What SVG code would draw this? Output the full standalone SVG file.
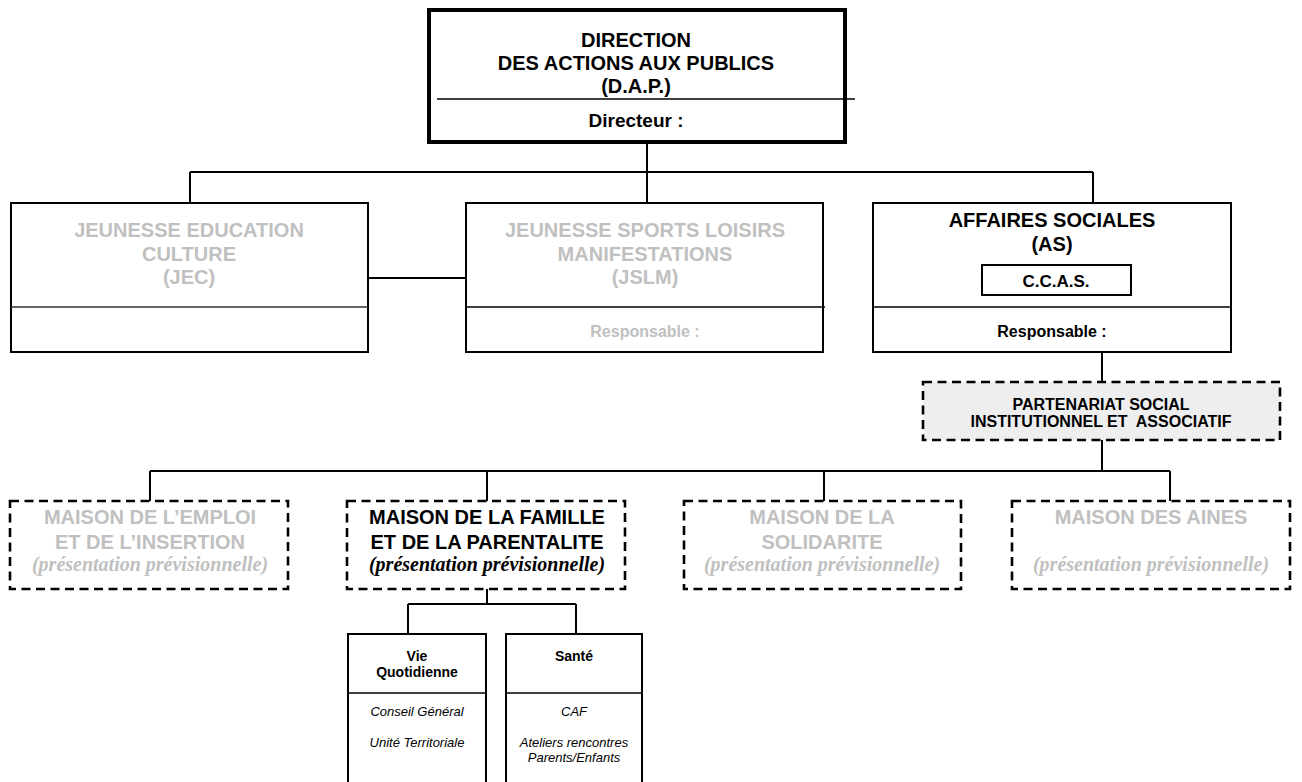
<svg xmlns="http://www.w3.org/2000/svg" width="1302" height="782" viewBox="0 0 1302 782">
<style>
.t{font-family:"Liberation Sans",Arial,sans-serif;font-weight:bold;text-anchor:middle;fill:#000}
.i{font-family:"Liberation Sans",Arial,sans-serif;font-style:italic;text-anchor:middle;fill:#000;font-size:13px}
.g{fill:#c0c0c0}
.s{font-family:"Liberation Serif","Times New Roman",serif;font-style:italic;font-weight:bold;text-anchor:middle;font-size:20px}
.box{fill:#fff;stroke:#000;stroke-width:2}
.dash{fill:#fff;stroke:#000;stroke-width:2.6;stroke-dasharray:9 5.5}
.ln{stroke:#000;stroke-width:2;fill:none}
.t20{font-size:20px}
.t16{font-size:16px}
.t14{font-size:14px}
</style>
<rect width="1302" height="782" fill="#fff"/>
<g id="connectors">
<path class="ln" d="M647 143V172M190 172H1093M190 172V203M647 172V203M1093 172V203"/>
<path class="ln" d="M368 278H466"/>
<path class="ln" d="M1102 352V382M1102 440V471M150 471H1170M150 471V501M487 471V501M824 471V501M1170 471V501"/>
<path class="ln" d="M487 589V604M408 604H576M408 604V634M576 604V634"/>
</g>
<g id="dap">
<rect x="429" y="10" width="416" height="132" fill="#fff" stroke="#000" stroke-width="4"/>
<line x1="437" y1="99" x2="855" y2="99" stroke="#000" stroke-width="1.5"/>
<text class="t t20" x="636" y="47">DIRECTION</text>
<text class="t t20" x="636" y="70">DES ACTIONS AUX PUBLICS</text>
<text class="t t20" x="636" y="93">(D.A.P.)</text>
<text class="t" font-size="19" x="636" y="127">Directeur :</text>
</g>
<g id="jec">
<rect class="box" x="11" y="203" width="357" height="149"/>
<line x1="11" y1="307" x2="368" y2="307" stroke="#333" stroke-width="1.5"/>
<text class="t t20 g" x="189" y="237">JEUNESSE EDUCATION</text>
<text class="t t20 g" x="189" y="261">CULTURE</text>
<text class="t t20 g" x="189" y="284">(JEC)</text>
</g>
<g id="jslm">
<rect class="box" x="466" y="203" width="357" height="149"/>
<line x1="466" y1="307" x2="825" y2="307" stroke="#000" stroke-width="1.5"/>
<text class="t t20 g" x="645" y="237">JEUNESSE SPORTS LOISIRS</text>
<text class="t t20 g" x="645" y="261">MANIFESTATIONS</text>
<text class="t t20 g" x="645" y="284">(JSLM)</text>
<text class="t t16 g" x="645" y="337">Responsable :</text>
</g>
<g id="as">
<rect class="box" x="873" y="203" width="358" height="149"/>
<line x1="872" y1="307" x2="1231" y2="307" stroke="#000" stroke-width="1.5"/>
<text class="t t20" x="1052" y="227">AFFAIRES SOCIALES</text>
<text class="t t20" x="1052" y="251">(AS)</text>
<rect class="box" x="982" y="265" width="149" height="30"/>
<text class="t" font-size="17" x="1056" y="287">C.C.A.S.</text>
<text class="t t16" x="1052" y="337">Responsable :</text>
</g>
<g id="partenariat">
<rect class="dash" x="923" y="382" width="357" height="58" fill="#eeeeee" style="fill:#eeeeee"/>
<text class="t t16" x="1101" y="410">PARTENARIAT SOCIAL</text>
<text class="t t16" x="1101" y="427" style="white-space:pre">INSTITUTIONNEL ET  ASSOCIATIF</text>
</g>
<g id="emploi">
<rect class="dash" x="10" y="501" width="278" height="88"/>
<text class="t t20 g" x="150" y="524">MAISON DE L’EMPLOI</text>
<text class="t t20 g" x="150" y="549">ET DE L’INSERTION</text>
<text class="s g" x="150" y="571">(présentation prévisionnelle)</text>
</g>
<g id="famille">
<rect class="dash" x="347" y="501" width="278" height="88"/>
<text class="t t20" x="487" y="524">MAISON DE LA FAMILLE</text>
<text class="t t20" x="487" y="549">ET DE LA PARENTALITE</text>
<text class="s" x="487" y="571">(présentation prévisionnelle)</text>
</g>
<g id="solidarite">
<rect class="dash" x="684" y="501" width="277" height="88"/>
<text class="t t20 g" x="822" y="524">MAISON DE LA</text>
<text class="t t20 g" x="822" y="549">SOLIDARITE</text>
<text class="s g" x="822" y="571">(présentation prévisionnelle)</text>
</g>
<g id="aines">
<rect class="dash" x="1012" y="501" width="278" height="88"/>
<text class="t t20 g" x="1151" y="524">MAISON DES AINES</text>
<text class="s g" x="1151" y="571">(présentation prévisionnelle)</text>
</g>
<g id="vie">
<rect class="box" x="348" y="634" width="138" height="170"/>
<line x1="348" y1="693" x2="486" y2="693" stroke="#000" stroke-width="1.5"/>
<text class="t t14" x="417" y="661">Vie</text>
<text class="t t14" x="417" y="677">Quotidienne</text>
<text class="i" x="417" y="716">Conseil Général</text>
<text class="i" x="417" y="747">Unité Territoriale</text>
</g>
<g id="sante">
<rect class="box" x="506" y="634" width="136" height="170"/>
<line x1="506" y1="693" x2="642" y2="693" stroke="#000" stroke-width="1.5"/>
<text class="t t14" x="574" y="661">Santé</text>
<text class="i" x="574" y="716">CAF</text>
<text class="i" x="574" y="747">Ateliers rencontres</text>
<text class="i" x="574" y="762">Parents/Enfants</text>
</g>
</svg>
